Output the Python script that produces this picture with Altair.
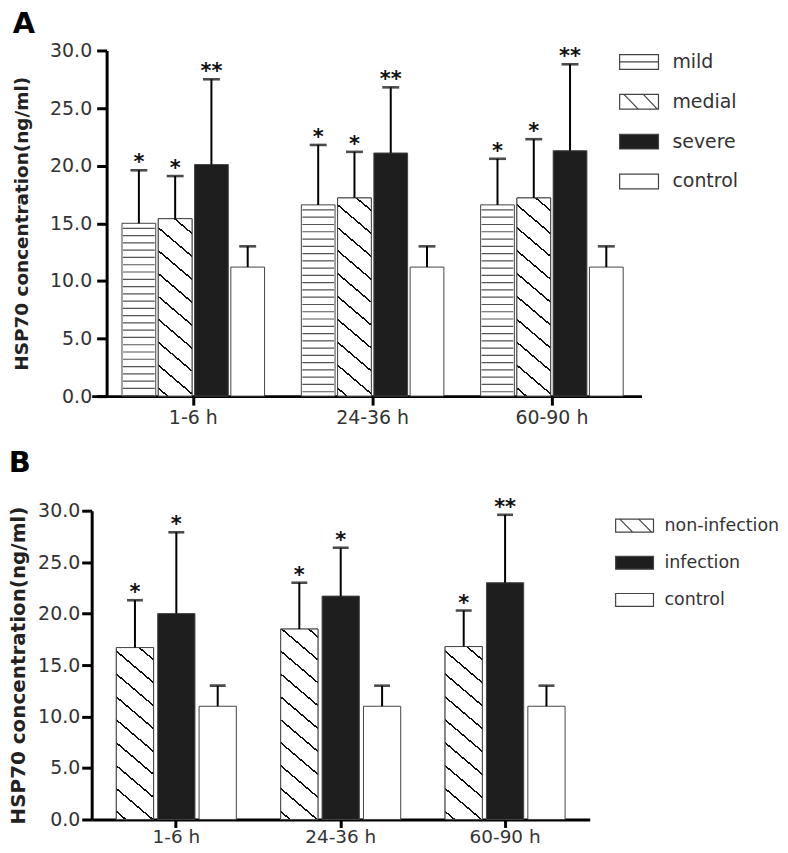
import math
import altair as alt
import pandas as pd

# ---------------- data ----------------
groups = ["1-6 h", "24-36 h", "60-90 h"]

a_series = ["mild", "medial", "severe", "control"]
a_mean = {
    "mild": [15.0, 16.6, 16.6],
    "medial": [15.4, 17.2, 17.2],
    "severe": [20.1, 21.1, 21.3],
    "control": [11.2, 11.2, 11.2],
}
a_sd = {
    "mild": [4.6, 5.2, 4.0],
    "medial": [3.7, 4.0, 5.1],
    "severe": [7.4, 5.7, 7.5],
    "control": [1.8, 1.8, 1.8],
}
a_sig = {
    "mild": ["*", "*", "*"],
    "medial": ["*", "*", "*"],
    "severe": ["**", "**", "**"],
    "control": ["", "", ""],
}

b_series = ["non-infection", "infection", "control"]
b_mean = {
    "non-infection": [16.7, 18.5, 16.8],
    "infection": [20.0, 21.7, 23.0],
    "control": [11.0, 11.0, 11.0],
}
b_sd = {
    "non-infection": [4.6, 4.5, 3.5],
    "infection": [7.9, 4.7, 6.6],
    "control": [2.0, 2.0, 2.0],
}
b_sig = {
    "non-infection": ["*", "*", "*"],
    "infection": ["*", "*", "**"],
    "control": ["", "", ""],
}

y_ticks = [0, 5, 10, 15, 20, 25, 30]


def frame(series, mean, sd, sig, tag):
    rows = []
    for s in series:
        for i, g in enumerate(groups):
            rows.append({"group" + tag: g, "series" + tag: s, "mean" + tag: mean[s][i],
                         "top" + tag: round(mean[s][i] + sd[s][i], 2),
                         "sig" + tag: sig[s][i]})
    return pd.DataFrame(rows)


FONT = "DejaVu Sans"
INK = "#333333"


# ---------------- diagonal hatch (gradient in bounding-box units) ----------------
def dgrad(W, H, s=0.85, vsp=23.0, lw=1.5, color="#111111", bg="white"):
    gmin, gmax = -s * W, H
    span = gmax - gmin
    den = (s * W) ** 2 + H ** 2
    x2 = 1 - s * W * span / den
    y2 = H * span / den
    glw = lw * math.sqrt(1 + s * s)
    gs = []
    g = gmax - vsp * 0.35
    while g - glw / 2 > gmin:
        gs.append(g)
        g -= vsp
    gs.sort()
    stops = [{"offset": 0, "color": bg}]
    for g in gs:
        a = round(max(0.0, (g - glw / 2 - gmin) / span), 5)
        b = round(min(1.0, (g + glw / 2 - gmin) / span), 5)
        stops += [{"offset": a, "color": bg}, {"offset": a, "color": color},
                  {"offset": b, "color": color}, {"offset": b, "color": bg}]
    stops.append({"offset": 1, "color": bg})
    return {"gradient": "linear", "x1": 1, "y1": 0, "x2": round(x2, 5),
            "y2": round(y2, 5), "stops": stops}


def panel(tag, series, mean, sd, sig, fills, patterns, shapes, W, H, pin, pout,
          palign, opin, title, title_offset, yoff, ytitle_size, title_pad,
          label_pad, xtick, xlab_pad, xlab_size, leg_x, leg_y, sym_w, leg_font,
          leg_offset, leg_rowpad, cap):
    df = frame(series, mean, sd, sig, tag)
    fg, fs, fm, ft, fsig = ("group" + tag, "series" + tag, "mean" + tag,
                            "top" + tag, "sig" + tag)
    # geometry of the band scales (to size the hatch fills)
    step = W / (len(groups) - pin + 2 * pout)
    band = step * (1 - pin)
    ostep = band / (len(series) - opin)
    bar_w = ostep * (1 - opin)

    xs = alt.Scale(domain=groups, paddingInner=pin, paddingOuter=pout, align=palign)
    xos = alt.Scale(domain=series, paddingInner=opin, paddingOuter=0)
    ys = alt.Scale(domain=[0, 30], nice=False)
    fill_scale = alt.Scale(domain=series, range=fills)

    xaxis = alt.Axis(title=None, labelAngle=0, domainColor="black", domainWidth=3,
                     tickColor="black", tickWidth=3, tickSize=xtick, labelFont=FONT,
                     labelFontSize=xlab_size, labelColor=INK, labelPadding=xlab_pad)
    yaxis = alt.Axis(values=y_ticks, format=".1f", title="HSP70 concentration(ng/ml)",
                     grid=False, domainColor="black", domainWidth=3, tickColor="black",
                     tickWidth=3, tickSize=10, labelFont=FONT, labelFontSize=19,
                     labelColor=INK, labelPadding=label_pad, titleFont=FONT,
                     titleFontSize=ytitle_size, titleFontWeight="bold",
                     titleColor="#222222", titlePadding=title_pad, offset=yoff)

    X = alt.X(f"{fg}:N", scale=xs, axis=xaxis)
    XO = alt.XOffset(f"{fs}:N", scale=xos)
    Y = alt.Y(f"{fm}:Q", scale=ys, axis=yaxis)
    Ytop = alt.Y(f"{ft}:Q", scale=ys, axis=yaxis)

    leg = alt.Legend(title=None, orient="none", legendX=leg_x, legendY=leg_y,
                     symbolSize=sym_w * sym_w, symbolStrokeColor="#444444",
                     symbolStrokeWidth=1.2, labelFont=FONT, labelFontSize=leg_font,
                     labelColor=INK, labelOffset=leg_offset, rowPadding=leg_rowpad,
                     labelLimit=300)

    base = alt.Chart(df)
    layers = [base.mark_bar(stroke="#444444", strokeWidth=1).encode(
        x=X, xOffset=XO, y=Y,
        fill=alt.Fill(f"{fs}:N", scale=fill_scale, legend=leg))]

    for s, kind in patterns.items():
        if kind == "h":
            # horizontal hatch: a bar-wide dashed vertical rule
            layers.append(
                base.transform_filter(f"datum['{fs}'] == '{s}'")
                .mark_rule(color="#555555", strokeWidth=bar_w - 2,
                           strokeDash=[1.2, 6.1], strokeDashOffset=2.8,
                           strokeCap="butt")
                .encode(x=X, xOffset=XO, y=Y, y2=alt.datum(0)))
        else:
            for i, g in enumerate(groups):
                hpx = mean[s][i] / 30 * H
                layers.append(
                    base.transform_filter(
                        f"datum['{fs}'] == '{s}' && datum['{fg}'] == '{g}'")
                    .mark_bar(fill=dgrad(bar_w, hpx), stroke="#444444", strokeWidth=1)
                    .encode(x=X, xOffset=XO, y=Y))

    layers.append(base.mark_rule(color="black", strokeWidth=2).encode(
        x=X, xOffset=XO, y=Y, y2=f"{ft}:Q"))
    layers.append(base.mark_tick(orient="horizontal", size=cap, thickness=2.6,
                                 color="black").encode(
        x=X, xOffset=XO, y=Ytop))
    layers.append(base.mark_text(font=FONT, fontSize=21, fontWeight="bold",
                                 baseline="alphabetic", dy=-1, color="#111111").encode(
        x=X, xOffset=XO, y=Ytop, text=f"{fsig}:N"))

    layers.append(base.transform_filter(f"datum['{fm}'] < 0").mark_point(
        filled=True, stroke="#444444", strokeWidth=1.2, opacity=1).encode(
        x=X, xOffset=XO, y=Y,
        fill=alt.Fill(f"{fs}:N", scale=fill_scale, legend=leg),
        shape=alt.Shape(f"{fs}:N", scale=alt.Scale(domain=series, range=shapes),
                        legend=leg)))

    return alt.layer(*layers).properties(
        width=W, height=H,
        title=alt.TitleParams(title, anchor="start", frame="bounds", font=FONT,
                              fontSize=29, fontWeight="bold", color="black",
                              offset=title_offset))


RECT_A = "M-1,-0.38H1V0.38H-1Z"
shapesA = [RECT_A + " M-1,0H1",
           RECT_A + " M-0.78,-0.38L-0.04,0.38 M0.22,-0.38L0.94,0.38",
           RECT_A, RECT_A]
RECT_B = "M-1,-0.34H1V0.34H-1Z"
shapesB = [RECT_B + " M-0.78,-0.34L-0.1,0.34 M0.22,-0.34L0.9,0.34",
           RECT_B, RECT_B]

chartA = panel("A", a_series, a_mean, a_sd, a_sig,
               ["white", "white", "#1e1e1e", "white"],
               {"mild": "h", "medial": "d"}, shapesA,
               W=552, H=347, pin=0.205, pout=0.1358, palign=0.623, opin=0.07,
               title="A", title_offset=3, yoff=-15, ytitle_size=18.5, title_pad=18,
               label_pad=5, xtick=9, xlab_pad=3, xlab_size=19,
               leg_x=529, leg_y=-9, sym_w=39, leg_font=19,
               leg_offset=13, leg_rowpad=9, cap=17)

chartB = panel("B", b_series, b_mean, b_sd, b_sig,
               ["white", "#1e1e1e", "white"],
               {"non-infection": "d"}, shapesB,
               W=500, H=310, pin=0.27, pout=0.15, palign=0.5, opin=0.1,
               title="B", title_offset=19, yoff=0, ytitle_size=20, title_pad=9,
               label_pad=2, xtick=8, xlab_pad=0, xlab_size=18.5,
               leg_x=525, leg_y=-5, sym_w=38, leg_font=17.5,
               leg_offset=10, leg_rowpad=8.3, cap=16)

chart = alt.vconcat(chartA, chartB, spacing=22).resolve_scale(
    x="independent", y="independent", xOffset="independent",
    fill="independent", shape="independent"
).resolve_legend(fill="independent", shape="independent").properties(
    padding={"left": 0, "top": 0, "right": 0, "bottom": 0},
    background="white"
).configure_view(stroke=None)

chart.save("out.html", embed_options={"renderer": "svg", "actions": False})
